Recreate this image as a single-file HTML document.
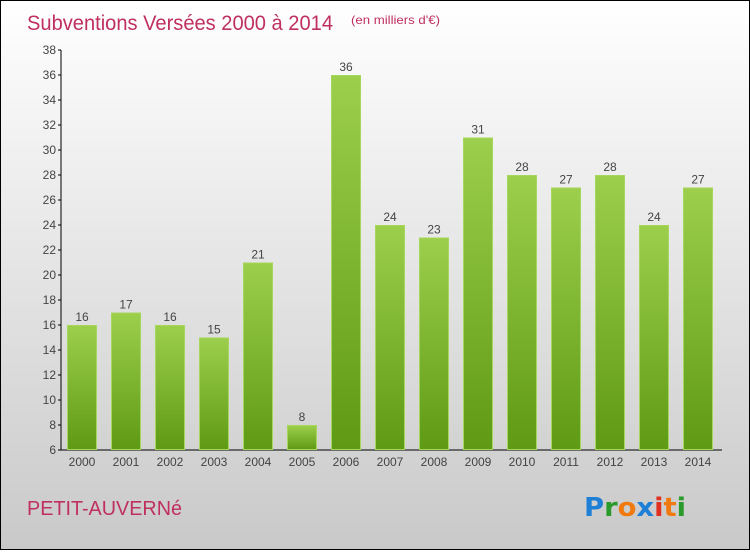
<!DOCTYPE html>
<html><head><meta charset="utf-8"><style>
html,body{margin:0;padding:0;}
body{width:750px;height:550px;overflow:hidden;}
#wrap{position:relative;width:748px;height:548px;border:1px solid #000;background:linear-gradient(#ffffff,#c9c9c9);font-family:"Liberation Sans",sans-serif;}
</style></head><body>
<div id="wrap">
<svg id="chart" width="748" height="548">
<defs><linearGradient id="bg" x1="0" y1="0" x2="0" y2="1"><stop offset="0" stop-color="#9ccf4c"/><stop offset="1" stop-color="#5f9a14"/></linearGradient></defs>
<text x="26" y="29" font-size="21" fill="#c0305f" textLength="306" lengthAdjust="spacingAndGlyphs">Subventions Versées 2000 à 2014</text>
<text x="350" y="23" font-size="12" fill="#c0305f" textLength="89" lengthAdjust="spacingAndGlyphs">(en milliers d'€)</text>
<text x="26" y="514" font-size="20" fill="#c0305f" textLength="155" lengthAdjust="spacingAndGlyphs">PETIT-AUVERNé</text>
<g font-size="26" font-weight="bold" font-family="'DejaVu Sans',sans-serif">
<text x="583" y="515" textLength="102" lengthAdjust="spacingAndGlyphs"><tspan fill="#1e7fd6">P</tspan><tspan fill="#2a9a2a">r</tspan><tspan fill="#f07a10">o</tspan><tspan fill="#1e7fd6">x</tspan><tspan fill="#e03020">i</tspan><tspan fill="#f07a10">t</tspan><tspan fill="#2a9a2a">i</tspan></text></g>
<g id="axes"></g><g id="bars"></g>
</svg></div>
<script>
const years=["2000","2001","2002","2003","2004","2005","2006","2007","2008","2009","2010","2011","2012","2013","2014"];
const values=[16,17,16,15,21,8,36,24,23,31,28,27,28,24,27];
const yTicks=[6,8,10,12,14,16,18,20,22,24,26,28,30,32,34,36,38];
const NS="http://www.w3.org/2000/svg";
const yMin=6,yMax=38,plotTop=49,plotBot=449,x0=81,step=44,bw=30;
const y=v=>plotBot-(v-yMin)/(yMax-yMin)*(plotBot-plotTop);
const x=i=>x0+i*step;
function mk(t,a,p){const e=document.createElementNS(NS,t);for(const k in a)e.setAttribute(k,a[k]);p.appendChild(e);return e;}
const ax=document.getElementById('axes'),bs=document.getElementById('bars');
const yl=mk('line',{x1:60,y1:plotTop,x2:60,y2:plotBot,stroke:'#000'},ax);


const xl=mk('line',{x1:60,y1:plotBot,x2:721,y2:plotBot,stroke:'#000'},ax);


yTicks.forEach(v=>{
 mk('line',{x1:57,y1:y(v),x2:60,y2:y(v),stroke:'#000'},ax);
 const t=mk('text',{x:55,y:y(v)+4,'text-anchor':'end','font-size':12,fill:'#444'},ax);
 t.textContent=v;
 
 
});
values.forEach((v,i)=>{
 const r=mk('rect',{x:x(i)-bw/2+0.5,y:y(v)+0.5,width:bw-1,height:plotBot-y(v)-1,fill:'url(#bg)',stroke:'#a6d65a'},bs);
 
 
 const l=mk('text',{x:x(i),y:y(v)-4,'text-anchor':'middle','font-size':12,fill:'#444'},bs);
 l.textContent=v;
 
 
 const yt=mk('text',{x:x(i),y:plotBot+16,'text-anchor':'middle','font-size':12,fill:'#444'},bs);
 yt.textContent=years[i];
 
 
});
</script>
</body></html>
